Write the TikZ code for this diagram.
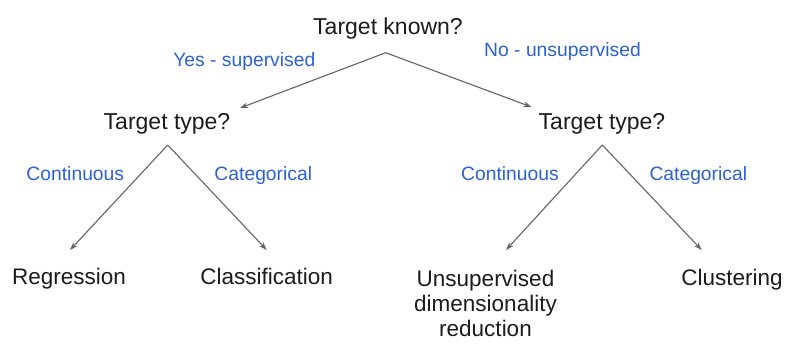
\documentclass[tikz,border=0pt]{standalone}
\usepackage{fontspec}
\setmainfont{Liberation Sans}
\usetikzlibrary{arrows.meta}
\definecolor{labelblue}{RGB}{44,98,212}
\definecolor{ink}{RGB}{28,28,28}
\definecolor{edgegray}{RGB}{100,100,100}
\tikzset{
  question/.style={inner sep=0pt, anchor=base, text=ink, font=\fontsize{23}{25}\selectfont},
  leaf/.style={inner sep=0pt, anchor=base, text=ink, align=center, font=\fontsize{22.5}{25}\selectfont},
  branchlabel/.style={inner sep=0pt, anchor=base, text=labelblue, font=\fontsize{19.3}{22}\selectfont},
  edge/.style={draw=edgegray, line width=1.1pt, -{Stealth[length=8pt,width=5.5pt]}}
}
\begin{document}
\begin{tikzpicture}[x=1pt, y=-1pt]
  \useasboundingbox[fill=white] (0,0) rectangle (786,343);

  % questions
  \node[question] (root)  at (388,34.3) {Target known?};
  \node[question] (typeL) at (167,129.3) {Target type?};
  \node[question] (typeR) at (602,129.3) {Target type?};

  % outcomes
  \node[leaf] (regr)  at (69,284) {Regression};
  \node[leaf] (class) at (266.7,284) {Classification};
  \node[leaf, anchor=north] (dimred) at (485.5,270.2) {Unsupervised\\dimensionality\\reduction};
  \node[leaf] (clust) at (732,285) {Clustering};

  % branch labels
  \node[branchlabel] (yes)  at (244.3,66.7) {Yes - supervised};
  \node[branchlabel] (no)   at (562.5,56) {No - unsupervised};
  \node[branchlabel] (contL) at (75.3,180.7) {Continuous};
  \node[branchlabel] (catL)  at (263.3,180.7) {Categorical};
  \node[branchlabel] (contR) at (510,180.7) {Continuous};
  \node[branchlabel] (catR)  at (698.3,180.7) {Categorical};

  % fork points and arrow ends
  \coordinate (rootfork) at (385.7,52.7);
  \coordinate (typeLin)  at (240,108);
  \coordinate (typeRin)  at (531.5,107);
  \coordinate (typeLfork) at (167.7,145);
  \coordinate (typeRfork) at (602.3,145);
  \coordinate (regrin)   at (70,250);
  \coordinate (classin)  at (266.7,250);
  \coordinate (dimredin) at (506,250);
  \coordinate (clustin)  at (701.7,250);

  % connectors
  \draw[edge] (rootfork) -- (typeLin);
  \draw[edge] (rootfork) -- (typeRin);
  \draw[edge] (typeLfork) -- (regrin);
  \draw[edge] (typeLfork) -- (classin);
  \draw[edge] (typeRfork) -- (dimredin);
  \draw[edge] (typeRfork) -- (clustin);
\end{tikzpicture}
\end{document}
